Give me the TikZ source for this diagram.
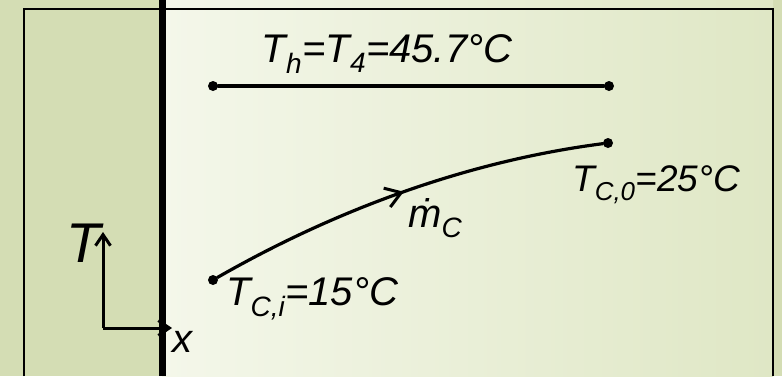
\documentclass[tikz,border=0pt]{standalone}
\usepackage{fontspec}
\setmainfont{Liberation Sans}
\usetikzlibrary{arrows.meta, decorations.markings}

\definecolor{wallgreen}{RGB}{212,221,180}
\definecolor{paneleft}{RGB}{244,247,234}
\definecolor{paneright}{RGB}{223,231,197}

\begin{document}
\begin{tikzpicture}[x=1pt, y=-1pt,
    dot/.style={circle, fill=black, inner sep=0pt, minimum size=10pt},
    lbl/.style={inner sep=0pt, font=\fontsize{40}{44}\selectfont\itshape},
    flow/.style={line width=3.2pt, line cap=round},
    axis/.style={line width=3pt, -{Straight Barb[length=11pt, width=15pt]}}
  ]
  \useasboundingbox (0,0) rectangle (782,376);

  % wall and fluid panel
  \fill[wallgreen] (0,0) rectangle (782,376);
  \shade[left color=paneleft, right color=paneright] (162,0) rectangle (773,376);
  \draw[line width=2.2pt] (24,376) -- (24,9) -- (773,9) -- (773,376);
  \draw[line width=7pt] (162,0) -- (162,376);

  % hot stream
  \node[dot] (hin) at (213,86) {};
  \node[dot] (hout) at (609,86) {};
  \draw[flow] (hin) -- (hout);
  \node[lbl, anchor=base] (hlabel) at (387,62) {T\textsubscript{h}=T\textsubscript{4}=45.7°C};

  % cold stream
  \node[dot] (cin) at (213,280) {};
  \node[dot] (cout) at (608,143) {};
  \draw[flow, postaction={decorate}, decoration={markings,
      mark=at position 0.5 with {\arrow{Straight Barb[length=15pt, width=20pt, line width=3pt]}}}]
    (cin) .. controls (344,205) and (476,160) .. (cout);
  \node[lbl, anchor=base west] (cinlabel) at (226,305) {T\textsubscript{C,i}=15°C};
  \node[lbl, anchor=base west, font=\fontsize{37}{40}\selectfont\itshape] (coutlabel) at (572,191) {T\textsubscript{C,0}=25°C};
  \node[lbl, anchor=base west] (mlabel) at (408,227) {ṁ\textsubscript{C}};

  % axes
  \coordinate (axo) at (103,328);
  \coordinate (axt) at (103,232);
  \coordinate (axx) at (172,328);
  \draw[axis] (axo) -- (axt);
  \draw[axis] (axo) -- (axx);
  \node[lbl, anchor=base west, font=\fontsize{56}{60}\selectfont\itshape] (tlabel) at (66,262) {T};
  \node[lbl, anchor=base west] (xlabel) at (172,352) {x};
\end{tikzpicture}
\end{document}
